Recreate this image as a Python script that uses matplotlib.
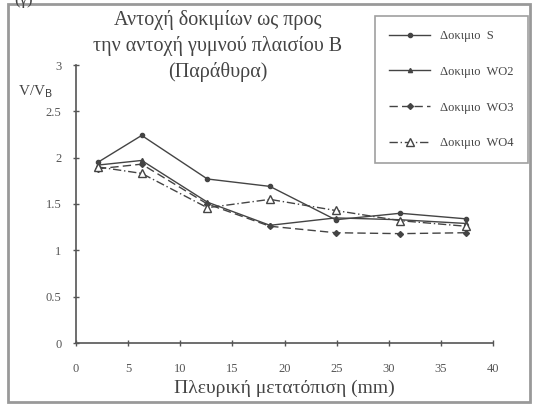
import matplotlib
matplotlib.use("Agg")
import matplotlib.pyplot as plt
from matplotlib.patches import Rectangle

plt.rcParams['font.family'] = ['Liberation Serif', 'DejaVu Serif']

# displacement values (mm)
x = [2.1, 6.3, 12.6, 18.6, 24.9, 31.1, 37.4]
S = [1.95, 2.24, 1.77, 1.69, 1.33, 1.40, 1.34]
WO2 = [1.92, 1.97, 1.52, 1.27, 1.35, 1.33, 1.29]
WO3 = [1.88, 1.93, 1.50, 1.26, 1.19, 1.18, 1.19]
WO4 = [1.90, 1.83, 1.46, 1.55, 1.43, 1.32, 1.26]

labels = ["Δοκιμιο  S", "Δοκιμιο  WO2", "Δοκιμιο  WO3", "Δοκιμιο  WO4"]
xticks = [0, 5, 10, 15, 20, 25, 30, 35, 40]
yticks = [0, 0.5, 1, 1.5, 2, 2.5, 3]

W, H = 536, 405
fig = plt.figure(figsize=(W / 100, H / 100), dpi=100)
fig.patch.set_facecolor("white")

# outer frame of the scanned figure
fig.patches.append(Rectangle((8 / W, 3 / H), 522 / W, 398 / H, transform=fig.transFigure,
                             fill=False, edgecolor="#999999", linewidth=2))

ax = fig.add_axes([76 / W, 1 - 343 / H, 417 / W, 278 / H])
c = "#444444"
ax.plot(x, S, color=c, lw=1, ls="-", marker="o", ms=3, label=labels[0])
ax.plot(x, WO2, color=c, lw=1, ls="-", marker="^", ms=3, label=labels[1])
ax.plot(x, WO3, color=c, lw=1, ls=(0, (6, 3)), marker="D", ms=3, label=labels[2])
ax.plot(x, WO4, color=c, lw=1, ls=(0, (6, 2, 1, 2)), marker="^", ms=6,
        mfc="white", mec=c, label=labels[3])

ax.set_xlim(0, 40)
ax.set_ylim(0, 3)
ax.set_xticks(xticks)
ax.set_yticks(yticks)
ax.set_xticklabels([str(t) for t in xticks])
ax.set_yticklabels(["0", "0.5", "1", "1.5", "2", "2.5", "3"])
ax.tick_params(direction="inout", length=5, width=1, colors="#555555",
               labelsize=9, labelcolor="#555555")
ax.tick_params(axis="x", pad=12)
ax.tick_params(axis="y", pad=8)
ax.spines["top"].set_visible(False)
ax.spines["right"].set_visible(False)
ax.spines["left"].set_color("#555555")
ax.spines["bottom"].set_color("#555555")
ax.spines["left"].set_linewidth(1.2)
ax.spines["bottom"].set_linewidth(1.2)

ax.set_xlabel("Πλευρική μετατόπιση (mm)", fontsize=14, color="#444444", labelpad=3)

fig.text(18 / W, 1 - 92 / H, "V/V$_\\mathrm{B}$", fontsize=11, color="#444444",
         va="center", ha="left")
fig.text(218 / W, 1 - 46 / H, "Αντοχή δοκιμίων ως προς\nτην αντοχή γυμνού πλαισίου Β\n(Παράθυρα)",
         fontsize=14.5, color="#444444", ha="center", va="center", linespacing=1.4)
fig.text(14 / W, 1.0, "(γ)", fontsize=12, color="#444444", ha="left", va="center")

leg = fig.legend(loc="upper left", bbox_to_anchor=(369 / W, 1 - 10 / H), fontsize=9,
                 frameon=True, fancybox=False, edgecolor="#888888", handlelength=3.3,
                 labelspacing=1.9, borderpad=1.1, handletextpad=0.8, labelcolor="#444444")
leg.get_frame().set_linewidth(1.2)

fig.savefig("out.png", dpi=100)
